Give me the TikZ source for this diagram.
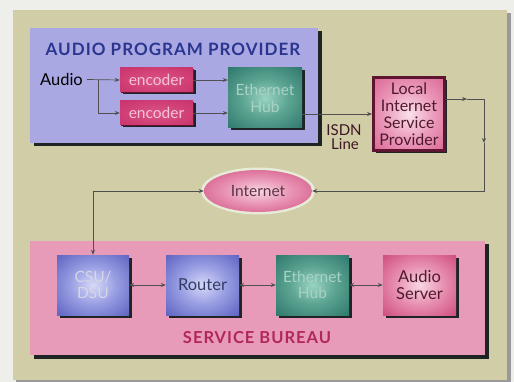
\documentclass[tikz,border=0pt]{standalone}
\usepackage{fontspec}
\setmainfont{Lato}
\newfontfamily\headfont[LetterSpace=6]{Lato}
\usetikzlibrary{shapes.geometric,shadows,arrows.meta,calc}

% colours
\definecolor{pagebg}{HTML}{EEEEEA}
\definecolor{panelbg}{HTML}{D1CDA7}
\definecolor{appblue}{HTML}{A9A8E2}
\definecolor{sbpink}{HTML}{E89BB9}
\definecolor{titleblue}{HTML}{2A3590}
\definecolor{sbtitle}{HTML}{B0285A}
\definecolor{shadowc}{HTML}{1E2424}
\definecolor{linkc}{HTML}{505050}
\definecolor{maroon}{HTML}{5E1530}
\definecolor{darkmaroon}{HTML}{4E1A2C}
\definecolor{tealtext}{HTML}{A9D2C6}
\definecolor{encodertext}{HTML}{F6C4D8}
\definecolor{csutext}{HTML}{D6D6E6}
\definecolor{routertext}{HTML}{333C63}
\definecolor{inettext}{HTML}{5E3444}
\definecolor{halo}{HTML}{E6ECD8}

% soft glows for the boxes
\pgfdeclareradialshading{tealglow}{\pgfpoint{0bp}{0bp}}{rgb(0bp)=(0.60,0.83,0.76); rgb(16bp)=(0.36,0.64,0.57); rgb(38bp)=(0.16,0.45,0.41); rgb(50bp)=(0.10,0.34,0.32); rgb(75bp)=(0.08,0.28,0.27)}
\pgfdeclareradialshading{blueglow}{\pgfpoint{0bp}{0bp}}{rgb(0bp)=(0.84,0.85,0.97); rgb(16bp)=(0.60,0.62,0.89); rgb(38bp)=(0.34,0.36,0.74); rgb(50bp)=(0.25,0.27,0.62); rgb(75bp)=(0.20,0.22,0.55)}
\pgfdeclareradialshading{pinkglow}{\pgfpoint{0bp}{0bp}}{rgb(0bp)=(0.97,0.84,0.89); rgb(16bp)=(0.91,0.57,0.70); rgb(38bp)=(0.80,0.27,0.47); rgb(50bp)=(0.72,0.19,0.39); rgb(75bp)=(0.64,0.15,0.33)}
\pgfdeclareradialshading{ispglow}{\pgfpoint{0bp}{0bp}}{rgb(0bp)=(0.98,0.88,0.92); rgb(18bp)=(0.92,0.60,0.73); rgb(40bp)=(0.84,0.36,0.54); rgb(50bp)=(0.78,0.28,0.47); rgb(75bp)=(0.70,0.22,0.40)}
\pgfdeclareradialshading{encglow}{\pgfpoint{0bp}{0bp}}{rgb(0bp)=(0.86,0.33,0.53); rgb(30bp)=(0.80,0.22,0.44); rgb(50bp)=(0.75,0.17,0.39); rgb(75bp)=(0.70,0.15,0.36)}

\tikzset{
  panel/.style={rectangle, inner sep=0pt,
    drop shadow={shadow xshift=3.5pt, shadow yshift=-3.5pt, fill=shadowc, opacity=1}},
  unit/.style={rectangle, inner sep=0pt, align=center,
    minimum width=73pt, minimum height=60pt,
    font=\fontsize{15.5}{16}\selectfont,
    drop shadow={shadow xshift=2.5pt, shadow yshift=-2.5pt, fill=shadowc, opacity=1}},
  encoderbox/.style={unit, minimum height=24pt, shading=encglow,
    text=encodertext, font=\fontsize{15.5}{16}\selectfont,
    drop shadow={shadow xshift=1.2pt, shadow yshift=-1.2pt, fill=maroon, opacity=1}},
  hubbox/.style={unit, shading=tealglow, text=tealtext},
  bluebox/.style={unit, shading=blueglow},
  pinkbox/.style={unit, shading=pinkglow, text=darkmaroon},
  link/.style={draw=linkc, line width=0.7pt, -{Stealth[length=5pt,width=4pt]}},
  twoway/.style={draw=linkc, line width=0.7pt,
    {Stealth[length=5pt,width=4pt]}-{Stealth[length=5pt,width=4pt]}},
  heading/.style={font=\headfont\bfseries\fontsize{#1}{#1}\selectfont},
  label/.style={font=\fontsize{15}{15}\selectfont, inner sep=0pt, text=darkmaroon!80!black},
}

\begin{document}
\begin{tikzpicture}[x=1pt,y=-1pt]
\useasboundingbox (0,0) rectangle (514,382);
\fill[pagebg] (0,0) rectangle (514,382);

% backing panel
\fill[black!40] (16,13) rectangle (510.5,381.5);
\fill[panelbg] (13,10) rectangle (507,379.5);

% audio program provider
\node[panel, fill=appblue, minimum width=288pt, minimum height=115pt] (app) at (174,85.5) {};
\node[heading=17, text=titleblue] (apptitle) at (173,49) {AUDIO PROGRAM PROVIDER};
\node[font=\fontsize{16.5}{17}\selectfont, anchor=east, inner sep=0pt] (audio) at (83,79.5) {Audio};
\node[encoderbox] (enc1) at (156.5,80) {encoder};
\node[encoderbox] (enc2) at (156.5,113) {encoder};
\node[hubbox, minimum width=74pt, font=\fontsize{15.5}{17}\selectfont] (hub1) at (265,98) {Ethernet\\Hub};

% local ISP
\node[unit, shading=ispglow, draw=maroon, line width=3pt, minimum width=71pt, minimum height=73pt,
      text=darkmaroon, font=\fontsize{16}{17}\selectfont] (lisp) at (409,114)
      {Local\\Internet\\Service\\Provider};
\node[label] (isdn) at (344,130) {ISDN};
\node[label] (isdnline) at (345,144.5) {Line};

% internet cloud
\node[ellipse, fill=halo, minimum width=114pt, minimum height=47pt, inner sep=0pt] (inethalo) at (258,191) {};
\node[ellipse, shading=pinkglow, minimum width=108pt, minimum height=42pt, inner sep=0pt,
      text=inettext, font=\fontsize{15.5}{16}\selectfont] (inet) at (258,191) {Internet};

% service bureau
\node[panel, fill=sbpink, minimum width=455pt, minimum height=114pt] (sb) at (257.5,298) {};
\node[bluebox, minimum width=72pt, text=csutext] (csu) at (93,285) {CSU/\\DSU};
\node[bluebox, text=routertext, font=\fontsize{16.5}{17}\selectfont] (router) at (202.5,285) {Router};
\node[hubbox] (hub2) at (312.5,285) {Ethernet\\Hub};
\node[pinkbox, font=\fontsize{16.5}{16.5}\selectfont] (aserver) at (419.5,285) {Audio\\Server};
\node[heading=16.5, text=sbtitle] (sbtitle) at (257,338) {SERVICE BUREAU};

% links inside the provider
\draw[link] (audio.east) ++(4pt,0) -- (enc1.west);
\coordinate (split) at (98,80);
\draw[link] (split) |- (enc2.west);
\draw[link] (enc1.east) -- (enc1.east -| hub1.west);
\draw[link] (enc2.east) -- (enc2.east -| hub1.west);

% ISDN line to the ISP
\draw[link] (hub1.east |- lisp.west) -- (lisp.west);

% ISP to the internet
\coordinate (ispout) at ([yshift=15pt]lisp.east);
\coordinate (mid1) at (467,99);
\coordinate (corner1) at (484,99);
\coordinate (mid2) at (484,143);
\coordinate (corner2) at (484,191);
\draw[link] (ispout) -- (mid1);
\draw[link] (mid1) -- (corner1) -- (mid2);
\draw[link] (mid2) -- (corner2) -- (inet.east);

% internet down to the bureau
\draw[twoway] (inet.west) -| (csu.north);

% links inside the bureau
\draw[twoway] (csu.east) -- (router.west);
\draw[twoway] (router.east) -- (hub2.west);
\draw[twoway] (hub2.east) -- (aserver.west);
\end{tikzpicture}
\end{document}
